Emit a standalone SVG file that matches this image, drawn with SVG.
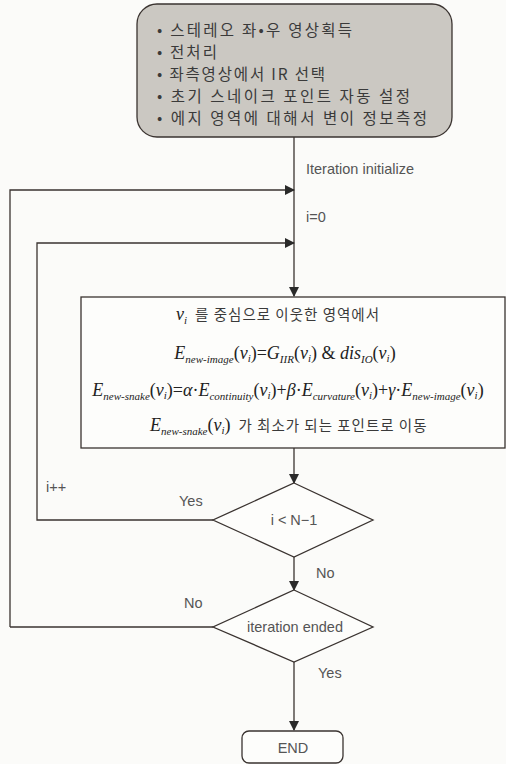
<svg xmlns="http://www.w3.org/2000/svg" width="506" height="764" viewBox="0 0 506 764">
<defs>
<marker id="ah" markerWidth="10" markerHeight="10" refX="9" refY="5" orient="auto" markerUnits="userSpaceOnUse">
<path d="M0,0 L10,5 L0,10 Z" fill="#2a2a2a"/>
</marker>
<style>
.ln{fill:none;stroke:#3a3330;stroke-width:1.3}
.shape{fill:#fdfdfb;stroke:#3a3330;stroke-width:1.3}
.kr{font-family:"Noto Sans CJK KR","Noto Sans",sans-serif;fill:#3a3a3a}
.lb{font-family:"Liberation Sans",Arial,sans-serif;fill:#555;font-size:14.5px}
.m{font-family:"Liberation Serif","Times New Roman",serif;font-style:italic;fill:#222;font-size:18px}
.mn{font-style:normal}
.s{font-size:11px}
</style>
</defs>
<rect width="506" height="764" fill="#fbfbf9"/>

<g id="connectors">
<path class="ln" d="M294,137 V296" marker-end="url(#ah)"/>
<path class="ln" d="M10,627 V190 H294" marker-end="url(#ah)"/>
<path class="ln" d="M213,520 H37 V243 H294" marker-end="url(#ah)"/>
<path class="ln" d="M294,448 V483" marker-end="url(#ah)"/>
<path class="ln" d="M294,557 V590" marker-end="url(#ah)"/>
<path class="ln" d="M213,627 H10"/>
<path class="ln" d="M294,662 V730" marker-end="url(#ah)"/>
<text class="lb" x="306" y="174">Iteration initialize</text>
<text class="lb" x="306" y="222">i=0</text>
<text class="lb" x="46" y="492">i++</text>
<text class="lb" x="179" y="506">Yes</text>
<text class="lb" x="316" y="578">No</text>
<text class="lb" x="184" y="608">No</text>
<text class="lb" x="318" y="678">Yes</text>
</g>

<g id="start">
<rect x="137" y="4" width="315" height="133" rx="20" ry="20" fill="#cbc8c2" stroke="#3a3330" stroke-width="1.3"/>
<g class="kr" font-size="15.5">
<text x="157" y="36" textLength="195" lengthAdjust="spacing">• 스테레오 좌•우 영상획득</text>
<text x="157" y="58" textLength="60" lengthAdjust="spacing">• 전처리</text>
<text x="157" y="80" textLength="168" lengthAdjust="spacing">• 좌측영상에서 IR 선택</text>
<text x="157" y="102" textLength="253" lengthAdjust="spacing">• 초기 스네이크 포인트 자동 설정</text>
<text x="157" y="124" textLength="270" lengthAdjust="spacing">• 에지 영역에 대해서 변이 정보측정</text>
</g>
</g>

<g id="process">
<rect class="shape" x="81" y="297" width="424" height="151"/>
<text x="176" y="320"><tspan class="m" font-size="21">v</tspan><tspan class="m s" dy="4">i</tspan><tspan class="kr" font-size="14.5" dx="8" dy="-4" textLength="184" lengthAdjust="spacing">를 중심으로 이웃한 영역에서</tspan></text>
<text class="m" x="285" y="359" text-anchor="middle">E<tspan class="s" dy="4">new-image</tspan><tspan dy="-4" class="mn">(</tspan>v<tspan class="s" dy="3">i</tspan><tspan class="mn" dy="-3">)=</tspan>G<tspan class="s" dy="4">IIR</tspan><tspan class="mn" dy="-4">(</tspan>v<tspan class="s" dy="3">i</tspan><tspan class="mn" dy="-3">) &amp; </tspan>dis<tspan class="s" dy="4">IO</tspan><tspan class="mn" dy="-4">(</tspan>v<tspan class="s" dy="3">i</tspan><tspan class="mn" dy="-3">)</tspan></text>
<text class="m" x="288" y="396" text-anchor="middle">E<tspan class="s" dy="4">new-snake</tspan><tspan dy="-4" class="mn">(</tspan>v<tspan class="s" dy="3">i</tspan><tspan class="mn" dy="-3">)=</tspan>α<tspan class="mn">·</tspan>E<tspan class="s" dy="4">continuity</tspan><tspan class="mn" dy="-4">(</tspan>v<tspan class="s" dy="3">i</tspan><tspan class="mn" dy="-3">)+</tspan>β<tspan class="mn">·</tspan>E<tspan class="s" dy="4">curvature</tspan><tspan class="mn" dy="-4">(</tspan>v<tspan class="s" dy="3">i</tspan><tspan class="mn" dy="-3">)+</tspan>γ<tspan class="mn">·</tspan>E<tspan class="s" dy="4">new-image</tspan><tspan class="mn" dy="-4">(</tspan>v<tspan class="s" dy="3">i</tspan><tspan class="mn" dy="-3">)</tspan></text>
<text x="150" y="431"><tspan class="m">E</tspan><tspan class="m s" dy="4">new-snake</tspan><tspan class="m mn" dy="-4">(</tspan><tspan class="m">v</tspan><tspan class="m s" dy="3">i</tspan><tspan class="m mn" dy="-3">)</tspan><tspan class="kr" font-size="14.5" dx="8" textLength="188" lengthAdjust="spacing">가  최소가 되는 포인트로 이동</tspan></text>
</g>

<g id="cond1">
<polygon class="shape" points="294,483 373,520 294,557 213,520"/>
<text class="lb" x="294" y="525" text-anchor="middle">i &lt; N−1</text>
</g>

<g id="cond2">
<polygon class="shape" points="294,590 373,627 294,662 213,627"/>
<text class="lb" x="295" y="632" text-anchor="middle">iteration ended</text>
</g>

<g id="end">
<rect class="shape" x="242" y="731" width="101" height="32" rx="7" ry="7"/>
<text class="lb" x="293" y="753" text-anchor="middle" font-size="16">END</text>
</g>
</svg>
